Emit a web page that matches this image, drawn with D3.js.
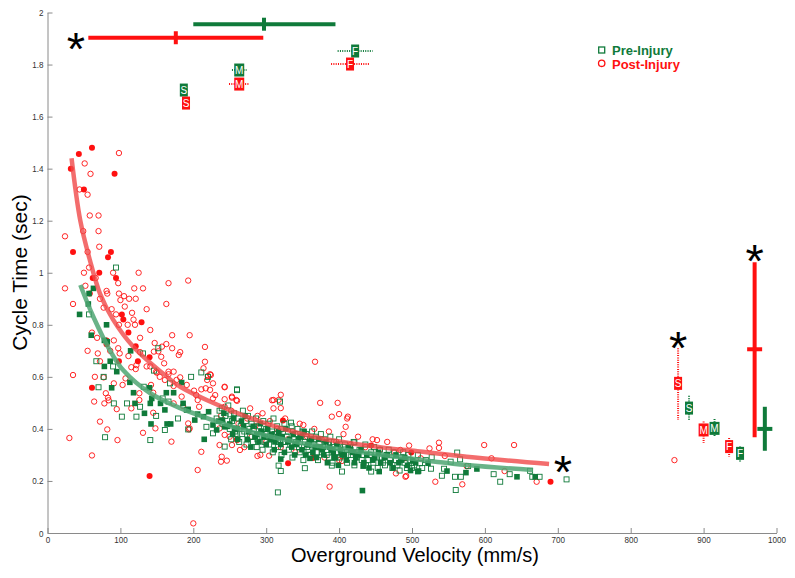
<!DOCTYPE html>
<html><head><meta charset="utf-8">
<script src="https://cdn.jsdelivr.net/npm/d3@7"></script>
<style>
body{margin:0;background:#fff;}
svg{display:block;}
</style></head>
<body>
<svg id="c" width="795" height="578"></svg>
<script>
// ---------- data ----------
const xTicks=[0,100,200,300,400,500,600,700,800,900,1000];
const yTicks=[0,0.2,0.4,0.6,0.8,1,1.2,1.4,1.6,1.8,2];
const yTickLabels=["0","0.2","0.4","0.6","0.8","1","1.2","1.4","1.6","1.8","2"];
const seriesNames=["Pre-Injury","Post-Injury"];

const preOpen=[[94,1.02],[57,0.84],[67,0.66],[90,0.64],[77,0.60],[152,0.71],[131,0.69],[197,0.60],[146,0.624],
[211,0.617],[220,0.60],[70,0.56],[79,0.368],[91,0.498],[102,0.447],[109,0.498],[122,0.447],[127,0.485],[132,0.562],
[141,0.357],[149,0.45],[158,0.517],[166,0.505],[161,0.396],[168,0.575],[179,0.44],[191,0.473],[193,0.398],[218,0.408],
[227,0.383],[239,0.479],[251,0.456],[260,0.552],[243,0.332],[316,0.156],[317,0.259],[320,0.238],[353,0.249],[390,0.259],
[404,0.236],[444,0.236],[260,0.549],[334,0.424],[421,0.348],[319,0.505],[527,0.291],[526,0.247],[544,0.247],[553,0.274],
[562,0.309],[566,0.283],[559,0.216],[567,0.216],[560,0.165],[541,0.22],[577,0.257],[612,0.226],[621,0.197],[634,0.226],
[662,0.239],[665,0.216],[675,0.216],[712,0.206],[511,0.268],
[232,0.44],[236,0.47],[240,0.42],[244,0.45],[248,0.49],[250,0.40],[253,0.43],[256,0.46],[258,0.38],[262,0.44],[265,0.41],
[268,0.47],[270,0.39],[272,0.43],[275,0.45],[278,0.37],[280,0.42],[283,0.40],[286,0.44],[288,0.36],[290,0.41],[293,0.39],
[296,0.43],[298,0.35],[300,0.40],[303,0.42],[305,0.37],[308,0.39],[310,0.44],[313,0.36],[315,0.41],[318,0.38],[320,0.40],
[323,0.35],[325,0.42],[328,0.37],[330,0.39],[333,0.34],[335,0.41],[338,0.36],[340,0.38],[343,0.40],[345,0.33],[348,0.37],
[350,0.39],[353,0.35],[355,0.38],[358,0.32],[360,0.36],[363,0.39],[365,0.34],[368,0.37],[370,0.31],[373,0.35],[375,0.38],
[378,0.33],[380,0.36],[383,0.30],[385,0.34],[388,0.37],[390,0.32],[393,0.35],[395,0.29],[398,0.33],[400,0.36],[404,0.31],
[408,0.34],[412,0.30],[415,0.33],[420,0.35],[424,0.29],[428,0.32],[432,0.30],[436,0.34],[440,0.28],[444,0.31],[448,0.33],
[452,0.29],[456,0.32],[460,0.27],[465,0.30],[470,0.28],[475,0.31],[480,0.26],[485,0.29],[490,0.27],[495,0.30],[500,0.25],
[252,0.36],[257,0.39],[263,0.35],[267,0.38],[273,0.34],[277,0.40],[282,0.35],[287,0.33],[291,0.37],[295,0.32],[299,0.38],
[304,0.34],[309,0.31],[312,0.38],[316,0.33],[321,0.30],[326,0.35],[331,0.32],[336,0.29],[341,0.35],[346,0.31],[351,0.28],
[356,0.33],[361,0.30],[366,0.36],[371,0.28],[376,0.31],[381,0.34],[386,0.29],[391,0.27],[396,0.31],[401,0.29],[406,0.33],
[411,0.27],[416,0.30],[421,0.26],[426,0.31],[431,0.28],[437,0.26],[442,0.30],[447,0.27],[453,0.25],[458,0.29],[463,0.26],
[468,0.32],[473,0.25],[478,0.28],[483,0.24],[488,0.31],[493,0.25],[498,0.28],[503,0.26],[508,0.30],[514,0.25],[519,0.28]];

const preFilled=[[63,0.94],[57,0.92],[56,0.88],[44,0.84],[81,0.80],[60,0.76],[78,0.74],[82,0.735],[114,0.70],[86,0.66],
[78,0.64],[95,0.62],[88,0.558],[113,0.579],[118,0.539],[120,0.498],[140,0.558],[141,0.498],[143,0.517],[133,0.46],
[142,0.419],[163,0.539],[173,0.539],[155,0.498],[161,0.473],[184,0.578],[164,0.419],[169,0.419],[186,0.498],[193,0.475],
[206,0.457],[202,0.434],[214,0.447],[221,0.466],[215,0.36],[227,0.415],[240,0.434],[243,0.408],[250,0.419],[257,0.402],
[232,0.396],[320,0.284],[432,0.163],[360,0.287],[455,0.236],[508,0.236],[433,0.257],[501,0.277],[509,0.238],[522,0.268],
[548,0.238],[574,0.232],[589,0.246],[644,0.216],[669,0.216],
[235,0.43],[242,0.46],[247,0.41],[255,0.44],[260,0.40],[266,0.43],[271,0.45],[276,0.39],[282,0.41],[287,0.38],[292,0.42],
[297,0.37],[302,0.40],[307,0.38],[312,0.35],[317,0.39],[322,0.37],[327,0.40],[332,0.36],[337,0.38],[342,0.34],[347,0.37],
[352,0.39],[357,0.34],[362,0.36],[367,0.33],[372,0.36],[377,0.32],[382,0.35],[387,0.33],[392,0.31],[397,0.34],[402,0.32],
[407,0.30],[413,0.33],[418,0.31],[423,0.29],[430,0.32],[438,0.30],[446,0.28],[454,0.31],[462,0.29],[470,0.27],[478,0.30],
[486,0.28],[494,0.26],[505,0.27],
[254,0.38],[261,0.36],[269,0.41],[274,0.36],[279,0.33],[285,0.37],[290,0.35],[294,0.39],[300,0.34],[306,0.36],[311,0.32],
[315,0.37],[320,0.34],[325,0.31],[330,0.35],[335,0.33],[339,0.30],[344,0.36],[349,0.32],[354,0.30],[359,0.35],[364,0.31],
[369,0.29],[374,0.33],[379,0.30],[384,0.27],[389,0.32],[394,0.29],[399,0.26],[404,0.30],[410,0.28],[416,0.32],[421,0.27],
[427,0.30],[434,0.27],[441,0.25],[449,0.29],[457,0.27],[466,0.30],[474,0.25],[482,0.27],[490,0.29],[498,0.24]];

const postOpen=[[24,1.14],[24,0.94],[35,0.88],[51,1.42],[44,1.32],[55,1.30],[59,1.38],[98,1.46],[49,1.16],[58,1.22],[70,1.22],
[70,1.16],[71,1.10],[55,1.08],[57,1.02],[50,1.00],[52,0.95],[66,0.98],[90,1.00],[97,0.96],[125,1.00],[119,0.94],[131,0.94],
[166,0.96],[193,0.97],[163,0.88],[81,0.93],[82,0.92],[98,0.92],[105,0.91],[112,0.90],[100,0.895],[121,0.90],[72,0.90],
[77,0.866],[88,0.86],[94,0.84],[106,0.87],[116,0.846],[136,0.86],[98,0.80],[110,0.80],[118,0.82],[120,0.80],[141,0.78],
[171,0.76],[195,0.76],[127,0.75],[68,0.75],[91,0.74],[55,0.70],[69,0.69],[86,0.70],[97,0.71],[111,0.68],[99,0.69],[61,0.77],
[127,0.695],[147,0.73],[157,0.716],[163,0.726],[171,0.71],[182,0.695],[146,0.697],[156,0.677],[180,0.684],[115,0.637],
[122,0.645],[72,0.66],[35,0.607],[65,0.60],[136,0.64],[166,0.62],[173,0.62],
[216,0.715],[367,0.658],[216,0.658],[214,0.633],[223,0.61],[152,0.698],[149,0.62],[160,0.652],[141,0.64],[121,0.63],
[77,0.598],[64,0.505],[78,0.498],[80,0.537],[83,0.52],[84,0.51],[95,0.476],[91,0.575],[103,0.569],[107,0.594],[72,0.428],
[82,0.398],[30,0.365],[61,0.298],[96,0.357],[115,0.479],[126,0.537],[126,0.511],[142,0.569],[145,0.539],[150,0.616],
[154,0.60],[161,0.588],[166,0.61],[177,0.588],[182,0.598],[145,0.462],[148,0.402],[131,0.385],[170,0.351],[173,0.498],
[193,0.421],[194,0.398],[186,0.488],[204,0.53],[201,0.547],[208,0.485],[206,0.511],[211,0.552],[223,0.55],[227,0.575],
[243,0.562],[243,0.514],[253,0.524],[260,0.508],[220,0.603],[211,0.312],[206,0.242],[200,0.037],[239,0.293],[246,0.278],
[238,0.274],[236,0.338],[253,0.338],[260,0.357],[243,0.377],[250,0.37],[173,0.565],[184,0.524],[191,0.569],
[219,0.588],[224,0.607],[217,0.556],[227,0.517],[230,0.53],[243,0.56],[253,0.52],[259,0.511],[243,0.485],[278,0.479],
[288,0.45],[310,0.511],[317,0.511],[320,0.531],[310,0.479],[390,0.447],[400,0.457],[412,0.447],[409,0.408],[351,0.415],
[288,0.296],[304,0.297],[264,0.319],[387,0.178],[404,0.277],[452,0.357],[478,0.229],[492,0.219],[496,0.336],[484,0.319],
[195,0.402],[236,0.402],[524,0.325],[537,0.347],[537,0.327],[599,0.338],[640,0.338],[609,0.287],[545,0.296],[512,0.287],
[491,0.216],[532,0.197],[569,0.187],[627,0.238],[575,0.257],[671,0.197],
[238,0.45],[252,0.47],[262,0.42],[274,0.44],[285,0.41],[295,0.46],[305,0.43],[315,0.40],[326,0.44],[336,0.39],[346,0.42],
[356,0.37],[366,0.40],[376,0.36],[386,0.39],[396,0.35],[406,0.38],[416,0.34],[426,0.37],[436,0.33],[446,0.36],[456,0.32],
[466,0.35],[476,0.31],[300,0.35],[320,0.33],[340,0.31],[280,0.37],[260,0.36],[360,0.30],[380,0.29],[400,0.28],[860,0.28],
[374,0.50],[398,0.50],[411,0.44],[308,0.51],[320,0.48],[270,0.33],[292,0.30],[330,0.36],[372,0.33],[420,0.31]];

const postFilled=[[32,1.40],[43,1.456],[61,1.48],[92,1.38],[50,1.32],[35,1.08],[87,1.08],[83,1.06],[71,1.00],[62,0.98],
[94,0.98],[58,0.92],[102,0.84],[104,0.82],[111,0.77],[129,0.81],[81,0.74],[81,0.725],[124,0.66],[98,0.66],[140,0.675],
[121,0.718],[61,0.558],[140,0.219],[323,0.432],[330,0.268],[364,0.288],[444,0.336],[499,0.309],[490,0.287],[690,0.197]];

// fitted curves
const preFit=[[45,0.953],[63,0.83],[86,0.70],[104,0.625],[141,0.537],[182,0.48],[227,0.434],[264,0.40],[350,0.345],[484,0.291],[575,0.261],[666,0.242]];
const postFit=[[33,1.44],[45,1.20],[58,1.05],[72,0.92],[90,0.82],[118,0.715],[164,0.60],[182,0.562],[273,0.447],[365,0.37],[456,0.33],[511,0.313],[575,0.293],[688,0.265]];

// summary: horizontal velocity bars (mean, lo, hi, at cycle time)
const velBars=[{g:1,t:1.903,mean:176,lo:56,hi:296},{g:0,t:1.955,mean:297,lo:200,hi:395}];
// summary: vertical cycle time bars
const ctBars=[{g:1,v:970,mean:0.706,lo:0.368,hi:1.04},{g:0,v:984,mean:0.40,lo:0.316,hi:0.485}];
// S / M / F speed groups: velocity summary (top)
const speedTop=[
 {g:0,lab:"S",v:187,t:1.702,err:5},{g:1,lab:"S",v:190,t:1.652,err:0},
 {g:0,lab:"M",v:263,t:1.779,err:10},{g:1,lab:"M",v:263,t:1.725,err:14},
 {g:0,lab:"F",v:422,t:1.852,err:24},{g:1,lab:"F",v:415,t:1.802,err:26}];
// S / M / F cycle time summary (right)
const speedRight=[
 {g:1,lab:"S",v:865,t:0.575,lo:0.434,hi:0.71},{g:0,lab:"S",v:880,t:0.48,lo:0.434,hi:0.527},
 {g:1,lab:"M",v:900,t:0.396,lo:0.346,hi:0.428},{g:0,lab:"M",v:915,t:0.402,lo:0.369,hi:0.438},
 {g:1,lab:"F",v:935,t:0.332,lo:0.292,hi:0.365},{g:0,lab:"F",v:950,t:0.306,lo:0.274,hi:0.332}];
// significance asterisks
const stars=[[39,1.902],[865,0.753],[970,1.087],[707,0.277]];

// ---------- drawing ----------
const GREEN="#0f7a3a", RED="#ff1010";
const gcol=g=>g===0?GREEN:RED;
const svg=d3.select("#c");
const x=d3.scaleLinear().domain([0,1000]).range([47.5,776.5]);
const y=d3.scaleLinear().domain([0,2]).range([533,12.5]);
const FONT="'Liberation Sans',Arial,sans-serif";

const xa=svg.append("g").attr("transform","translate(0,533)")
 .call(d3.axisBottom(x).tickValues(xTicks).tickSize(-5).tickSizeOuter(0).tickPadding(3).tickFormat(d=>String(d)));
const ya=svg.append("g").attr("transform","translate(47.5,0)")
 .call(d3.axisLeft(y).tickValues(yTicks).tickSize(-5).tickSizeOuter(0).tickPadding(4).tickFormat((d,i)=>yTickLabels[i]));
[xa,ya].forEach(a=>{
 a.select(".domain").attr("stroke","#8a8a8a");
 a.selectAll(".tick line").attr("stroke","#8a8a8a");
 a.selectAll(".tick text").attr("fill","#333").style("font-family",FONT).style("font-size","9.5px");
});
xa.selectAll(".tick text").attr("transform","scale(0.85,1)");
ya.selectAll(".tick text").attr("x",-4/0.85).attr("transform","scale(0.85,1)");

svg.append("text").attr("x",415).attr("y",562).attr("text-anchor","middle")
 .style("font-family",FONT).style("font-size","20px").attr("fill","#000")
 .text("Overground Velocity (mm/s)");
svg.append("text").attr("transform","translate(27,272.5) rotate(-90)").attr("text-anchor","middle")
 .style("font-family",FONT).style("font-size","21px").attr("fill","#000")
 .text("Cycle Time (sec)");

const pts=svg.append("g");
const S=5, R=2.7;
pts.selectAll("circle.po").data(postOpen).join("circle").attr("cx",d=>x(d[0])).attr("cy",d=>y(d[1])).attr("r",R)
 .attr("fill","none").attr("stroke",RED).attr("stroke-width",0.9);
pts.selectAll("circle.pf").data(postFilled).join("circle").attr("cx",d=>x(d[0])).attr("cy",d=>y(d[1])).attr("r",R+0.3)
 .attr("fill",RED).attr("stroke","none");
pts.selectAll("rect.qo").data(preOpen).join("rect").attr("x",d=>x(d[0])-S/2).attr("y",d=>y(d[1])-S/2).attr("width",S).attr("height",S)
 .attr("fill","none").attr("stroke",GREEN).attr("stroke-width",0.9);
pts.selectAll("rect.qf").data(preFilled).join("rect").attr("x",d=>x(d[0])-S/2-0.3).attr("y",d=>y(d[1])-S/2-0.3).attr("width",S+0.6).attr("height",S+0.6)
 .attr("fill",GREEN).attr("stroke","none");

const line=d3.line().x(d=>x(d[0])).y(d=>y(d[1])).curve(d3.curveCatmullRom);
svg.append("path").attr("d",line(preFit)).attr("fill","none").attr("stroke","#4fa673").attr("stroke-opacity",0.85).attr("stroke-width",4.5);
svg.append("path").attr("d",line(postFit)).attr("fill","none").attr("stroke","#f04848").attr("stroke-opacity",0.8).attr("stroke-width",4.5);

// velocity bars (top)
velBars.forEach(b=>{
 svg.append("line").attr("x1",x(b.lo)).attr("x2",x(b.hi)).attr("y1",y(b.t)).attr("y2",y(b.t)).attr("stroke",gcol(b.g)).attr("stroke-width",4);
 svg.append("line").attr("x1",x(b.mean)).attr("x2",x(b.mean)).attr("y1",y(b.t)-6.5).attr("y2",y(b.t)+6.5).attr("stroke",gcol(b.g)).attr("stroke-width",4);
});
// cycle time bars (right)
ctBars.forEach(b=>{
 svg.append("line").attr("x1",x(b.v)).attr("x2",x(b.v)).attr("y1",y(b.hi)).attr("y2",y(b.lo)).attr("stroke",gcol(b.g)).attr("stroke-width",4);
 svg.append("line").attr("x1",x(b.v)-7.5).attr("x2",x(b.v)+7.5).attr("y1",y(b.mean)).attr("y2",y(b.mean)).attr("stroke",gcol(b.g)).attr("stroke-width",4);
});

function box(cx,cy,lab,g){
 const w=lab==="M"?10:8, h=13;
 svg.append("rect").attr("x",cx-w/2).attr("y",cy-h/2).attr("width",w).attr("height",h).attr("fill",gcol(g));
 svg.append("text").attr("x",cx).attr("y",cy+3.6).attr("text-anchor","middle").attr("fill","#fff")
  .style("font-family",FONT).style("font-size","10px").text(lab);
}
speedTop.forEach(d=>{
 if(d.err>0) svg.append("line").attr("x1",x(d.v-d.err)).attr("x2",x(d.v+d.err)).attr("y1",y(d.t)).attr("y2",y(d.t))
  .attr("stroke",gcol(d.g)).attr("stroke-width",2).attr("stroke-dasharray","1,1.3");
 box(x(d.v),y(d.t),d.lab,d.g);
});
speedRight.forEach(d=>{
 svg.append("line").attr("x1",x(d.v)).attr("x2",x(d.v)).attr("y1",y(d.hi)).attr("y2",y(d.lo))
  .attr("stroke",gcol(d.g)).attr("stroke-width",2).attr("stroke-dasharray","1,1.3");
 box(x(d.v),y(d.t),d.lab,d.g);
});

svg.selectAll("text.star").data(stars).join("text").attr("class","star")
 .attr("x",d=>x(d[0])).attr("y",d=>y(d[1])+27).attr("text-anchor","middle")
 .style("font-family",FONT).style("font-size","47px").attr("fill","#000").text("*");

// legend
const lg=svg.append("g");
lg.append("rect").attr("x",598.7).attr("y",47).attr("width",6).attr("height",6).attr("fill","none").attr("stroke",GREEN).attr("stroke-width",1.3);
lg.append("circle").attr("cx",601.7).attr("cy",63.3).attr("r",3.2).attr("fill","none").attr("stroke",RED).attr("stroke-width",1.3);
lg.append("text").attr("x",612).attr("y",55).attr("fill",GREEN).style("font-family",FONT)
 .style("font-size","13px").style("font-weight","bold").text(seriesNames[0]);
lg.append("text").attr("x",612).attr("y",68.5).attr("fill",RED).style("font-family",FONT)
 .style("font-size","13px").style("font-weight","bold").text(seriesNames[1]);
</script>
</body></html>
